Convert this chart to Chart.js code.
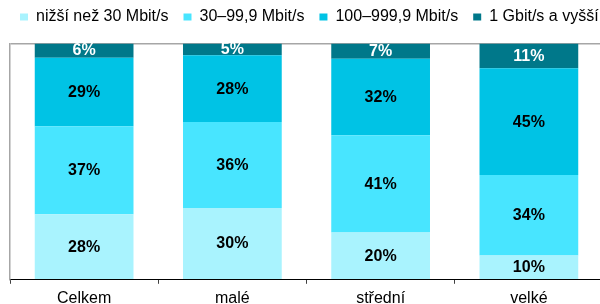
<!DOCTYPE html>
<html>
<head>
<meta charset="utf-8">
<script src="https://cdn.jsdelivr.net/npm/chart.js@4.4.1/dist/chart.umd.min.js"></script>
<style>
html, body { margin: 0; padding: 0; overflow: hidden; background: #fff; width: 600px; height: 304px; }
canvas { display: block; }
</style>
</head>
<body>
<canvas id="c" width="640" height="313"></canvas>
<script>
const categories = ['Celkem', 'malé', 'střední', 'velké'];
const seriesNames = ['nižší než 30 Mbit/s', '30–99,9 Mbit/s', '100–999,9 Mbit/s', '1 Gbit/s a vyšší'];
const below30 = [27.7, 30.4, 20.0, 10.3];
const from30to100 = [37.3, 36.4, 41.2, 34.0];
const from100to1000 = [29.0, 28.2, 32.3, 45.2];
const gigabit = [6.0, 5.0, 6.5, 10.5];
const seriesColors = ['#A9F3FE', '#48E5FF', '#00C3E5', '#00788A'];
const labelColors = ['#000000', '#000000', '#000000', '#FFFFFF'];

Chart.defaults.font.family = "'Liberation Sans', Arial, sans-serif";
Chart.defaults.color = '#000';

const valueLabels = {
  id: 'valueLabels',
  afterDatasetsDraw(chart) {
    const ctx = chart.ctx;
    ctx.save();
    ctx.font = "bold 16px 'Liberation Sans', Arial, sans-serif";
    ctx.textAlign = 'center';
    ctx.textBaseline = 'middle';
    chart.data.datasets.forEach((ds, di) => {
      const meta = chart.getDatasetMeta(di);
      meta.data.forEach((el, i) => {
        const v = ds.data[i];
        ctx.fillStyle = labelColors[di];
        ctx.fillText(Math.round(v) + '%', el.x, (el.y + el.base) / 2 + 0.5);
      });
    });
    ctx.restore();
  }
};

const allSeries = [below30, from30to100, from100to1000, gigabit];

new Chart(document.getElementById('c'), {
  type: 'bar',
  data: {
    labels: categories,
    datasets: allSeries.map((d, i) => ({
      label: seriesNames[i],
      data: d,
      backgroundColor: seriesColors[i],
      borderWidth: 0,
      xAxisID: 'x',
      yAxisID: 'y',
      barPercentage: 0.666,
      categoryPercentage: 1.0
    }))
  },
  options: {
    responsive: false,
    animation: false,
    devicePixelRatio: 1,
    layout: { padding: { left: 5, right: 0, top: -6, bottom: 0 } },
    plugins: {
      legend: {
        position: 'top',
        align: 'start',
        labels: {
          boxWidth: 8,
          boxHeight: 7,
          padding: 15,
          color: '#000',
          font: { size: 16 }
        }
      },
      tooltip: { enabled: false }
    },
    scales: {
      x: {
        stacked: true,
        position: 'bottom',
        grid: {
          display: true,
          drawOnChartArea: false,
          drawTicks: true,
          tickLength: 4,
          color: '#404040',
          offset: true
        },
        border: { display: true, color: '#000', width: 1 },
        ticks: { padding: 5, color: '#000', font: { size: 16 } }
      },
      y: {
        stacked: true,
        min: 0,
        max: 100,
        position: 'left',
        ticks: { display: false, stepSize: 100 },
        grid: {
          drawTicks: false,
          lineWidth: 1.5,
          color: (c) => (c.tick && c.tick.value === 100 ? '#A6A6A6' : 'rgba(0,0,0,0)')
        },
        border: { display: true, color: '#A6A6A6', width: 1.5 },
        afterFit(s) { s.width = 5; }
      },
      yRight: {
        type: 'linear',
        position: 'right',
        display: true,
        ticks: { display: false },
        grid: { display: false },
        border: { display: false },
        afterFit(s) { s.width = 37; }
      },
      xTop: {
        type: 'linear',
        position: 'top',
        display: true,
        ticks: { display: false },
        grid: { display: false },
        border: { display: false },
        afterFit(s) { s.height = 8.5; }
      }
    }
  },
  plugins: [valueLabels]
});
</script>
</body>
</html>
